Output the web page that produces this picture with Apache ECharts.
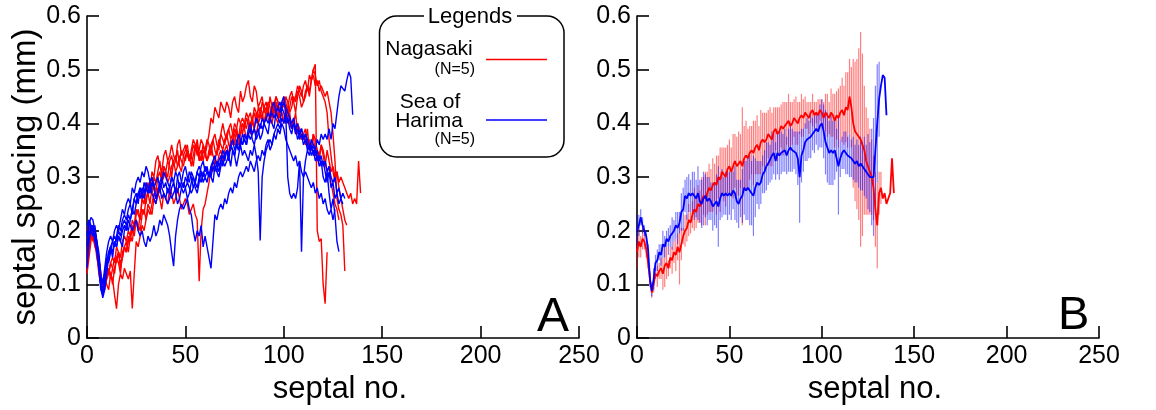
<!DOCTYPE html>
<html>
<head>
<meta charset="utf-8">
<script src="https://cdn.jsdelivr.net/npm/echarts@6/dist/echarts.min.js"></script>
<style>
html,body{margin:0;padding:0;background:#fff;}
#c{width:1156px;height:410px;}
</style>
</head>
<body>
<div id="c"></div>
<script>
// ---------- DATA (septal spacing in mm, index = septal no.) ----------
const xTicks = [0, 50, 100, 150, 200, 250];
const yTicks = [0, 0.1, 0.2, 0.3, 0.4, 0.5, 0.6];
const groupNames = ['Nagasaki', 'Sea of Harima'];
const groupN = ['(N=5)', '(N=5)'];

// Panel A: individual specimens, Nagasaki (red)
const nagasaki1 = [0.13,0.17,0.20,0.19,0.17,0.16,0.12,0.10,0.09,0.11,
0.13,0.12,0.14,0.15,0.14,0.17,0.16,0.15,0.18,0.19,
0.18,0.20,0.19,0.22,0.21,0.24,0.23,0.22,0.26,0.27,
0.25,0.28,0.29,0.27,0.30,0.29,0.31,0.33,0.30,0.32,
0.31,0.30,0.33,0.34,0.32,0.33,0.35,0.32,0.31,0.34,
0.35,0.36,0.33,0.34,0.36,0.35,0.37,0.34,0.35,0.33,
0.35,0.37,0.36,0.34,0.37,0.38,0.36,0.35,0.38,0.40,
0.38,0.37,0.39,0.40,0.38,0.36,0.39,0.41,0.40,0.38,
0.40,0.42,0.41,0.39,0.40,0.43,0.42,0.40,0.41,0.44,
0.43,0.41,0.42,0.45,0.43,0.42,0.44,0.41,0.43,0.42,
0.40,0.43,0.41,0.42,0.39,0.40,0.42,0.38,0.39,0.37,
0.38,0.36,0.39,0.35,0.36,0.38,0.34,0.35,0.33,0.36,
0.34,0.32,0.35,0.33,0.31,0.32,0.30,0.31,0.29,0.30,
0.29,0.28,0.27,0.26,0.27,0.25,0.26,0.25,0.33,0.27];
const nagasaki2 = [0.15,0.20,0.21,0.18,0.19,0.16,0.14,0.11,0.10,0.12,
0.11,0.13,0.12,0.10,0.13,0.15,0.14,0.12,0.16,0.17,
0.16,0.19,0.18,0.21,0.20,0.23,0.24,0.22,0.26,0.25,
0.28,0.29,0.27,0.31,0.30,0.33,0.34,0.32,0.31,0.34,
0.35,0.33,0.34,0.36,0.34,0.33,0.36,0.37,0.34,0.35,
0.36,0.34,0.33,0.35,0.37,0.36,0.34,0.35,0.37,0.36,
0.34,0.36,0.38,0.41,0.40,0.43,0.42,0.41,0.44,0.43,
0.42,0.44,0.43,0.41,0.44,0.45,0.43,0.42,0.46,0.44,
0.45,0.47,0.48,0.45,0.44,0.47,0.46,0.43,0.44,0.45,
0.42,0.43,0.41,0.40,0.42,0.43,0.41,0.40,0.42,0.44,
0.43,0.45,0.44,0.42,0.43,0.45,0.44,0.46,0.45,0.43,
0.44,0.46,0.47,0.45,0.48,0.49,0.47,0.48,0.46,0.47,
0.47,0.45,0.46,0.44,0.42,0.38,0.33,0.26,0.24,0.23,
0.21,0.125];
const nagasaki3 = [0.12,0.15,0.18,0.21,0.20,0.17,0.15,0.12,0.09,0.10,
0.12,0.13,0.11,0.13,0.15,0.14,0.16,0.13,0.15,0.17,
0.18,0.16,0.19,0.20,0.19,0.22,0.21,0.20,0.23,0.24,
0.22,0.25,0.24,0.23,0.26,0.25,0.27,0.26,0.24,0.27,
0.26,0.25,0.28,0.27,0.25,0.26,0.28,0.26,0.24,0.25,
0.26,0.25,0.23,0.24,0.25,0.23,0.22,0.106,0.20,0.24,
0.25,0.27,0.29,0.32,0.31,0.33,0.32,0.34,0.35,0.33,
0.35,0.36,0.34,0.37,0.36,0.38,0.39,0.37,0.38,0.40,
0.39,0.41,0.40,0.38,0.41,0.42,0.40,0.43,0.42,0.41,
0.43,0.44,0.42,0.41,0.44,0.43,0.45,0.44,0.42,0.43,
0.44,0.42,0.43,0.45,0.46,0.44,0.45,0.47,0.46,0.45,
0.47,0.48,0.46,0.49,0.48,0.50,0.51,0.20,0.18,0.185,
0.10,0.064,0.16];
const nagasaki4 = [0.20,0.21,0.19,0.20,0.18,0.15,0.13,0.10,0.08,0.11,
0.10,0.09,0.12,0.11,0.08,0.055,0.10,0.12,0.11,0.13,
0.12,0.11,0.125,0.055,0.12,0.18,0.17,0.19,0.21,0.20,
0.22,0.24,0.23,0.25,0.27,0.26,0.28,0.27,0.29,0.30,
0.31,0.29,0.30,0.32,0.33,0.31,0.32,0.34,0.33,0.32,
0.34,0.35,0.33,0.34,0.32,0.35,0.36,0.34,0.33,0.35,
0.34,0.33,0.35,0.36,0.34,0.33,0.35,0.37,0.36,0.35,
0.37,0.38,0.36,0.35,0.37,0.39,0.38,0.36,0.38,0.40,
0.39,0.37,0.38,0.40,0.41,0.39,0.38,0.40,0.42,0.41,
0.40,0.42,0.43,0.41,0.40,0.42,0.44,0.43,0.41,0.42,
0.40,0.41,0.43,0.40,0.39,0.41,0.38,0.40,0.39,0.37,
0.38,0.39,0.36,0.37,0.35,0.38,0.37,0.35,0.34,0.36,
0.35,0.33,0.31,0.32,0.29,0.27,0.25,0.24,0.22];
const nagasaki5 = [0.14,0.16,0.19,0.21,0.20,0.18,0.15,0.12,0.10,0.09,
0.11,0.12,0.14,0.13,0.12,0.15,0.16,0.14,0.15,0.17,
0.16,0.18,0.19,0.18,0.21,0.22,0.20,0.23,0.24,0.23,
0.26,0.27,0.25,0.28,0.29,0.27,0.30,0.31,0.29,0.32,
0.31,0.33,0.32,0.30,0.33,0.34,0.32,0.33,0.35,0.34,
0.33,0.35,0.34,0.32,0.34,0.36,0.35,0.33,0.34,0.36,
0.35,0.33,0.34,0.36,0.37,0.35,0.34,0.36,0.38,0.37,
0.36,0.38,0.39,0.37,0.38,0.40,0.39,0.37,0.40,0.41,
0.40,0.39,0.41,0.42,0.40,0.39,0.42,0.41,0.43,0.42,
0.40,0.42,0.44,0.43,0.41,0.43,0.45,0.44,0.42,0.43,
0.45,0.44,0.42,0.43,0.45,0.44,0.42,0.45,0.47,0.46,
0.44,0.45,0.47,0.46,0.48,0.50,0.49,0.47,0.48,0.46,
0.45,0.44,0.42,0.37,0.34,0.31,0.29,0.31,0.28,0.26,
0.24,0.22,0.21];

// Panel A: individual specimens, Sea of Harima (blue)
const harima1 = [0.17,0.21,0.225,0.22,0.20,0.18,0.15,0.11,0.08,0.10,
0.14,0.16,0.17,0.15,0.18,0.17,0.19,0.18,0.17,0.20,
0.21,0.20,0.22,0.24,0.23,0.25,0.27,0.28,0.26,0.29,
0.28,0.27,0.29,0.30,0.28,0.26,0.27,0.29,0.30,0.28,
0.29,0.27,0.28,0.30,0.29,0.27,0.30,0.31,0.29,0.28,
0.30,0.29,0.31,0.30,0.28,0.29,0.31,0.30,0.32,0.33,
0.31,0.32,0.30,0.31,0.33,0.32,0.31,0.33,0.34,0.32,
0.34,0.35,0.33,0.36,0.35,0.34,0.37,0.35,0.36,0.38,
0.37,0.36,0.38,0.39,0.37,0.36,0.38,0.39,0.37,0.38,
0.40,0.39,0.38,0.41,0.40,0.39,0.42,0.41,0.40,0.43,
0.42,0.40,0.41,0.39,0.38,0.40,0.39,0.37,0.38,0.39,
0.37,0.38,0.36,0.35,0.37,0.36,0.35,0.37,0.36,0.38,
0.37,0.38,0.37,0.39,0.37,0.40,0.39,0.42,0.45,0.47,
0.47,0.46,0.48,0.496,0.486,0.416];
const harima2 = [0.13,0.18,0.20,0.21,0.19,0.17,0.14,0.10,0.075,0.09,
0.12,0.15,0.17,0.16,0.18,0.17,0.19,0.18,0.20,0.21,
0.20,0.22,0.21,0.20,0.21,0.22,0.20,0.19,0.20,0.18,
0.17,0.19,0.18,0.19,0.21,0.19,0.20,0.22,0.21,0.23,
0.22,0.21,0.19,0.16,0.134,0.19,0.22,0.24,0.25,0.24,
0.25,0.26,0.24,0.23,0.20,0.18,0.20,0.19,0.21,0.17,
0.19,0.17,0.15,0.13,0.18,0.23,0.22,0.24,0.25,0.24,
0.26,0.25,0.27,0.28,0.27,0.29,0.28,0.30,0.31,0.30,
0.31,0.32,0.31,0.33,0.32,0.31,0.33,0.34,0.33,0.35,
0.34,0.36,0.37,0.35,0.36,0.38,0.37,0.39,0.38,0.40,
0.39,0.37,0.36,0.35,0.34,0.33,0.34,0.32,0.33,0.31,
0.30,0.31,0.30,0.29,0.28,0.29,0.27,0.28,0.26,0.27,
0.25,0.26,0.24,0.23,0.24,0.22,0.24];
const harima3 = [0.15,0.19,0.21,0.20,0.18,0.16,0.13,0.09,0.08,0.11,
0.13,0.16,0.17,0.18,0.17,0.19,0.21,0.20,0.22,0.23,
0.22,0.24,0.25,0.23,0.26,0.27,0.25,0.28,0.27,0.26,
0.28,0.27,0.29,0.27,0.26,0.25,0.27,0.28,0.26,0.27,
0.27,0.25,0.26,0.28,0.29,0.27,0.25,0.26,0.28,0.29,
0.28,0.26,0.27,0.29,0.30,0.28,0.27,0.29,0.31,0.29,
0.30,0.29,0.31,0.30,0.29,0.32,0.31,0.30,0.32,0.33,
0.32,0.33,0.34,0.32,0.35,0.34,0.32,0.34,0.36,0.34,
0.35,0.34,0.33,0.35,0.34,0.36,0.34,0.31,0.182,0.30,
0.33,0.35,0.36,0.37,0.36,0.38,0.39,0.40,0.39,0.41,
0.40,0.42,0.40,0.41,0.39,0.40,0.38,0.39,0.37,0.38,
0.36,0.37,0.35,0.36,0.34,0.35,0.33,0.34,0.32,0.33,
0.30,0.29,0.31,0.27,0.24,0.26,0.23,0.18,0.161];
const harima4 = [0.19,0.22,0.21,0.20,0.19,0.17,0.14,0.10,0.09,0.12,
0.15,0.14,0.16,0.18,0.19,0.18,0.20,0.19,0.21,0.22,
0.21,0.23,0.22,0.24,0.26,0.25,0.27,0.26,0.28,0.27,
0.29,0.28,0.27,0.29,0.28,0.26,0.27,0.29,0.28,0.27,
0.26,0.28,0.27,0.26,0.27,0.28,0.27,0.29,0.28,0.27,
0.28,0.29,0.28,0.27,0.28,0.29,0.28,0.30,0.29,0.31,
0.30,0.31,0.31,0.30,0.32,0.31,0.33,0.32,0.33,0.34,
0.33,0.35,0.34,0.36,0.35,0.34,0.36,0.35,0.37,0.36,
0.37,0.36,0.38,0.37,0.38,0.39,0.37,0.38,0.40,0.39,
0.39,0.41,0.40,0.40,0.42,0.41,0.42,0.43,0.42,0.44,
0.45,0.42,0.30,0.27,0.26,0.27,0.26,0.28,0.33,0.161,
0.30,0.33,0.35,0.34,0.36,0.34,0.35,0.33,0.34,0.32,
0.33,0.31,0.29,0.31,0.28,0.29,0.26,0.27,0.25,0.26,
0.25];
const harima5 = [0.21,0.22,0.20,0.19,0.21,0.18,0.16,0.12,0.10,0.13,
0.16,0.18,0.19,0.18,0.20,0.21,0.20,0.22,0.24,0.23,
0.25,0.26,0.25,0.28,0.27,0.29,0.30,0.29,0.31,0.30,
0.32,0.31,0.29,0.30,0.28,0.29,0.30,0.28,0.29,0.31,
0.30,0.29,0.28,0.30,0.29,0.31,0.30,0.28,0.29,0.31,
0.32,0.30,0.29,0.31,0.30,0.29,0.31,0.32,0.31,0.30,
0.32,0.31,0.30,0.32,0.33,0.34,0.32,0.31,0.33,0.35,
0.34,0.35,0.34,0.36,0.37,0.35,0.36,0.38,0.37,0.36,
0.38,0.37,0.39,0.40,0.38,0.39,0.41,0.40,0.39,0.41,
0.40,0.41,0.42,0.41,0.43,0.44,0.42,0.43,0.44,0.43,
0.44,0.43,0.42,0.41,0.40,0.41,0.39,0.40,0.38,0.39,
0.37,0.38,0.37,0.36,0.35,0.36,0.34,0.35,0.33,0.34,
0.32,0.33,0.31,0.32,0.30,0.29,0.30,0.27,0.28,0.26,
0.27,0.26];

// Panel B: mean and standard deviation per septum
const nagasakiMean = [0.16,0.18,0.17,0.185,0.18,0.165,0.14,0.11,0.085,0.10,
0.12,0.115,0.125,0.13,0.12,0.135,0.14,0.13,0.15,0.145,
0.16,0.155,0.17,0.16,0.175,0.19,0.20,0.205,0.22,0.215,
0.23,0.24,0.235,0.25,0.245,0.255,0.265,0.26,0.27,0.28,
0.275,0.285,0.29,0.285,0.30,0.295,0.31,0.305,0.30,0.315,
0.32,0.31,0.32,0.33,0.32,0.325,0.33,0.32,0.335,0.34,
0.335,0.345,0.35,0.345,0.355,0.36,0.35,0.365,0.37,0.365,
0.37,0.38,0.375,0.37,0.385,0.39,0.38,0.385,0.395,0.39,
0.395,0.40,0.405,0.395,0.40,0.41,0.405,0.40,0.41,0.415,
0.41,0.42,0.415,0.41,0.42,0.425,0.415,0.42,0.415,0.425,
0.42,0.41,0.42,0.415,0.41,0.42,0.415,0.405,0.415,0.41,
0.42,0.425,0.415,0.43,0.425,0.45,0.43,0.40,0.385,0.38,
0.38,0.37,0.36,0.35,0.33,0.32,0.31,0.30,0.28,0.24,
0.21,0.27,0.28,0.26,0.27,0.25,0.26,0.27,0.335,0.27];
const nagasakiSD = [0.03,0.03,0.02,0.02,0.015,0.015,0.01,0.01,0.01,0.015,
0.01,0.02,0.015,0.02,0.03,0.04,0.03,0.015,0.02,0.025,
0.02,0.03,0.025,0.06,0.03,0.015,0.03,0.025,0.03,0.02,
0.025,0.04,0.03,0.035,0.03,0.045,0.035,0.05,0.04,0.045,
0.04,0.05,0.035,0.055,0.04,0.06,0.045,0.05,0.055,0.045,
0.05,0.045,0.06,0.05,0.055,0.06,0.05,0.11,0.06,0.065,
0.055,0.05,0.045,0.06,0.05,0.055,0.045,0.06,0.05,0.055,
0.05,0.045,0.055,0.05,0.045,0.04,0.05,0.045,0.04,0.05,
0.045,0.04,0.05,0.045,0.04,0.035,0.045,0.04,0.03,0.04,
0.035,0.03,0.025,0.03,0.02,0.03,0.025,0.02,0.03,0.02,
0.025,0.03,0.035,0.04,0.03,0.045,0.04,0.05,0.045,0.055,
0.05,0.06,0.055,0.065,0.07,0.07,0.075,0.12,0.13,0.14,
0.16,0.20,0.17,0.12,0.10,0.09,0.08,0.07,0.06,0.07,
0.08,0.04,0.03,0,0,0,0,0,0,0];
const harimaMean = [0.20,0.21,0.225,0.21,0.20,0.19,0.165,0.11,0.088,0.11,
0.14,0.145,0.16,0.155,0.175,0.17,0.185,0.18,0.19,0.195,
0.20,0.21,0.205,0.215,0.235,0.24,0.265,0.26,0.27,0.265,
0.27,0.265,0.26,0.27,0.255,0.25,0.26,0.265,0.255,0.26,
0.255,0.245,0.25,0.255,0.245,0.26,0.27,0.265,0.27,0.265,
0.27,0.265,0.275,0.27,0.255,0.25,0.26,0.265,0.28,0.275,
0.28,0.275,0.27,0.265,0.28,0.29,0.285,0.29,0.305,0.31,
0.32,0.325,0.325,0.34,0.345,0.33,0.345,0.34,0.345,0.345,
0.35,0.34,0.35,0.355,0.35,0.35,0.345,0.335,0.30,0.34,
0.35,0.365,0.37,0.37,0.375,0.38,0.38,0.39,0.385,0.395,
0.40,0.385,0.365,0.355,0.345,0.35,0.345,0.35,0.35,0.32,
0.335,0.345,0.35,0.345,0.34,0.34,0.335,0.335,0.325,0.33,
0.32,0.325,0.32,0.32,0.31,0.31,0.30,0.30,0.30,0.35,
0.40,0.445,0.47,0.49,0.485,0.415];
const harimaSD = [0.03,0.02,0.015,0.015,0.01,0.01,0.01,0.015,0.01,0.02,
0.015,0.02,0.015,0.02,0.025,0.02,0.015,0.025,0.02,0.03,
0.02,0.025,0.03,0.02,0.035,0.04,0.03,0.04,0.035,0.03,
0.04,0.045,0.035,0.05,0.04,0.045,0.05,0.04,0.045,0.04,
0.035,0.045,0.04,0.05,0.075,0.04,0.045,0.035,0.04,0.045,
0.04,0.045,0.035,0.05,0.04,0.045,0.035,0.05,0.05,0.055,
0.06,0.065,0.06,0.075,0.055,0.04,0.045,0.04,0.035,0.04,
0.045,0.04,0.035,0.045,0.04,0.035,0.04,0.045,0.04,0.035,
0.04,0.035,0.04,0.045,0.04,0.035,0.04,0.05,0.085,0.05,
0.04,0.035,0.04,0.035,0.04,0.03,0.035,0.03,0.035,0.04,
0.045,0.05,0.06,0.065,0.06,0.065,0.06,0.055,0.04,0.09,
0.035,0.03,0.035,0.04,0.035,0.04,0.035,0.04,0.035,0.04,
0.04,0.05,0.045,0.055,0.05,0.07,0.065,0.09,0.11,0.12,
0.11,0.07,0,0,0,0];

// ---------- BUILD ----------
const RED = '#ff0000', BLUE = '#0000ff';
const FONT = 'Liberation Sans, Arial, Helvetica, sans-serif';
const pairs = arr => arr.map((v, i) => [i, v]);
const bars = (m, s) => m.map((v, i) => [i, v - s[i], v + s[i]]).filter((d, i) => s[i] > 0);

function xAx(gi) {
  return {
    gridIndex: gi, type: 'value', min: xTicks[0], max: xTicks[xTicks.length - 1], interval: 50,
    axisLine: {show: true, onZero: false, lineStyle: {color: '#000', width: 1.6}},
    axisTick: {show: true, inside: true, length: 12, lineStyle: {color: '#000', width: 1.6}},
    axisLabel: {color: '#000', fontSize: 25, fontFamily: FONT, margin: 6},
    splitLine: {show: false},
    name: 'septal no.', nameLocation: 'middle', nameGap: 22,
    nameTextStyle: {color: '#000', fontSize: 31, fontFamily: FONT, padding: [0, 0, 0, 14]}
  };
}
function yAx(gi, withName) {
  const a = {
    gridIndex: gi, type: 'value', min: yTicks[0], max: yTicks[yTicks.length - 1], interval: 0.1,
    axisLine: {show: true, onZero: false, lineStyle: {color: '#000', width: 1.6}},
    axisTick: {show: true, inside: true, length: 12, lineStyle: {color: '#000', width: 1.6}},
    axisLabel: {color: '#000', fontSize: 25, fontFamily: FONT, margin: 6},
    splitLine: {show: false}
  };
  if (withName) {
    a.name = 'septal spacing (mm)'; a.nameLocation = 'middle'; a.nameGap = 41;
    a.nameTextStyle = {color: '#000', fontSize: 33, fontFamily: FONT};
  }
  return a;
}
function lineSeries(name, data, color, gi, w) {
  return {
    name: name, type: 'line', xAxisIndex: gi, yAxisIndex: gi, data: pairs(data),
    showSymbol: false, symbol: 'none', animation: false, silent: true,
    lineStyle: {color: color, width: w}
  };
}
function errSeries(m, s, color, gi) {
  return {
    type: 'custom', xAxisIndex: gi, yAxisIndex: gi, data: bars(m, s), animation: false, silent: true,
    renderItem: function (params, api) {
      const p1 = api.coord([api.value(0), api.value(1)]);
      const p2 = api.coord([api.value(0), api.value(2)]);
      return {type: 'line', shape: {x1: p1[0], y1: p1[1], x2: p2[0], y2: p2[1]},
              style: {stroke: color, lineWidth: 1.2}};
    }
  };
}

const chart = echarts.init(document.getElementById('c'), null, {renderer: 'canvas'});
const redsA = [nagasaki1, nagasaki2, nagasaki3, nagasaki4, nagasaki5];
const bluesA = [harima1, harima2, harima3, harima4, harima5];
const series = [];
redsA.forEach(d => series.push(lineSeries(groupNames[0], d, RED, 0, 1.4)));
bluesA.forEach(d => series.push(lineSeries(groupNames[1], d, BLUE, 0, 1.4)));
series.push(errSeries(nagasakiMean, nagasakiSD, 'rgba(255,0,0,0.5)', 1));
series.push(errSeries(harimaMean, harimaSD, 'rgba(0,0,255,0.5)', 1));
series.push(lineSeries(groupNames[0], nagasakiMean, RED, 1, 1.8));
series.push(lineSeries(groupNames[1], harimaMean, BLUE, 1, 1.8));

const txt = (x, y, s, size, align) => ({type: 'text', x: x, y: y, silent: true,
  style: {text: s, fill: '#000', font: size + 'px ' + FONT, textAlign: align, textVerticalAlign: 'middle'}});

chart.setOption({
  animation: false,
  backgroundColor: '#fff',
  grid: [
    {left: 87, top: 16, width: 492, height: 329},
    {left: 637, top: 16, width: 462, height: 329}
  ],
  xAxis: [xAx(0), xAx(1)],
  yAxis: [yAx(0, true), yAx(1, false)],
  series: series,
  graphic: [
    {type: 'rect', shape: {x: 379.5, y: 16, width: 184.5, height: 141, r: 17}, silent: true,
     style: {fill: '#fff', stroke: '#000', lineWidth: 1.5}},
    {type: 'rect', shape: {x: 424, y: 10, width: 93, height: 12}, silent: true, style: {fill: '#fff'}},
    txt(470, 17, 'Legends', 22, 'center'),
    txt(429, 49, groupNames[0], 21, 'center'),
    txt(475, 70, groupN[0], 16, 'right'),
    {type: 'line', shape: {x1: 486, y1: 59.5, x2: 547, y2: 59.5}, silent: true, style: {stroke: RED, lineWidth: 1.5}},
    txt(430, 102.5, 'Sea of', 21, 'center'),
    txt(429, 121, 'Harima', 21, 'center'),
    txt(475, 140, groupN[1], 16, 'right'),
    {type: 'line', shape: {x1: 486, y1: 120, x2: 547, y2: 120}, silent: true, style: {stroke: BLUE, lineWidth: 1.5}},
    txt(569, 318, 'A', 48, 'right'),
    txt(1058, 316, 'B', 47, 'left')
  ]
});
</script>
</body>
</html>
